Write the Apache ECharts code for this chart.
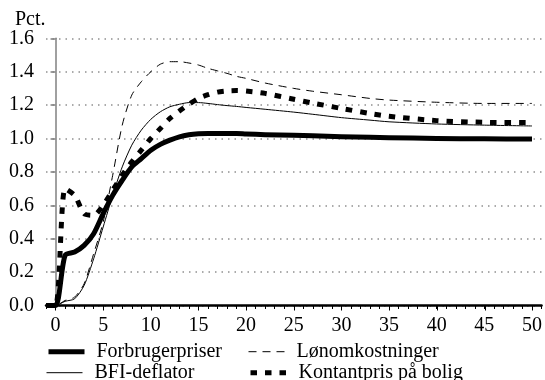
<!DOCTYPE html>
<html>
<head>
<meta charset="utf-8">
<script src="https://cdn.jsdelivr.net/npm/echarts@6/dist/echarts.min.js"></script>
<style>
  html, body { margin: 0; padding: 0; background: #fff; }
  #chart { width: 545px; height: 380px; }
</style>
</head>
<body>
<div id="chart"></div>
<script>
// kvartaler efter stød
const quarters = [-1, 0, 1, 2, 3, 4, 5, 6, 7, 8, 9, 10, 11, 12, 13, 14, 15, 16, 17, 18, 19, 20, 22, 25, 27, 30, 33, 35, 40, 45, 50];

const forbrugerpriser = [0, 0, 0.30, 0.32, 0.36, 0.43, 0.55, 0.66, 0.75, 0.83, 0.88, 0.93, 0.965, 0.99, 1.01, 1.022, 1.028, 1.03, 1.03, 1.03, 1.03, 1.027, 1.023, 1.02, 1.016, 1.011, 1.007, 1.005, 1.0, 0.998, 0.997];
const bfiDeflator = [0, 0, 0.025, 0.04, 0.12, 0.28, 0.47, 0.66, 0.83, 0.96, 1.05, 1.115, 1.16, 1.19, 1.205, 1.215, 1.215, 1.21, 1.203, 1.197, 1.192, 1.186, 1.175, 1.158, 1.145, 1.125, 1.11, 1.10, 1.087, 1.08, 1.075];
const loenomkostninger = [0, 0, 0.03, 0.05, 0.13, 0.31, 0.5, 0.78, 1.08, 1.26, 1.34, 1.40, 1.445, 1.46, 1.46, 1.452, 1.44, 1.42, 1.405, 1.39, 1.372, 1.36, 1.332, 1.30, 1.283, 1.262, 1.24, 1.23, 1.217, 1.21, 1.21];
const kontantpris = [0, 0, 0.70, 0.66, 0.55, 0.54, 0.60, 0.69, 0.78, 0.86, 0.93, 1.0, 1.06, 1.12, 1.165, 1.205, 1.24, 1.262, 1.278, 1.285, 1.287, 1.284, 1.27, 1.235, 1.212, 1.18, 1.15, 1.133, 1.107, 1.097, 1.095];

const yTicks = [0, 0.2, 0.4, 0.6, 0.8, 1.0, 1.2, 1.4, 1.6];
const xLabels = [0, 5, 10, 15, 20, 25, 30, 35, 40, 45, 50];

const font = 'Liberation Serif';
const fontSize = 20;
const pairs = (vals) => quarters.map((q, i) => [q, vals[i]]);

const styles = {
  'Forbrugerpriser': {width: 5, type: 'solid'},
  'BFI-deflator': {width: 1, type: 'solid'},
  'Lønomkostninger': {width: 1, type: [8, 6]},
  'Kontantpris på bolig': {width: 5, type: [6.5, 8]}
};

// plotområde: x fra -1 til 51
const plotLeft = 46, plotRight = 3, plotTop = 38.3, plotBottom = 74.5;
const unit = (545 - plotLeft - plotRight) / 52;

const chart = echarts.init(document.getElementById('chart'));

const lineSeries = (name, vals) => ({
  name: name,
  type: 'line',
  data: pairs(vals),
  symbol: 'none',
  smooth: 0.25,
  lineStyle: Object.assign({color: '#000', cap: 'butt', join: 'round'}, styles[name]),
  itemStyle: {color: '#000'},
  animation: false
});

// én legende pr. post, så kolonnerne står præcist
const legendItem = (name, left, top) => ({
  left: left,
  top: top,
  padding: 0,
  itemWidth: 36,
  itemHeight: 10,
  itemStyle: {color: 'transparent', borderWidth: 0, opacity: 0},
  lineStyle: Object.assign({color: '#000', cap: 'butt'}, styles[name]),
  textStyle: {fontFamily: font, fontSize: fontSize, color: '#000', lineHeight: 20, padding: [0, 0, 0, 7]},
  data: [name]
});

chart.setOption({
  animation: false,
  title: {
    text: 'Pct.',
    left: 15,
    top: 10,
    padding: 0,
    textStyle: {fontFamily: font, fontSize: fontSize, fontWeight: 'normal', color: '#000'}
  },
  grid: [
    {left: plotLeft, right: plotRight, top: plotTop, bottom: plotBottom, containLabel: false},
    // kun til de lange streger ved hver 5.
    {left: plotLeft + unit, right: plotRight + unit, top: plotTop, bottom: plotBottom, containLabel: false}
  ],
  legend: [
    legendItem('Forbrugerpriser', 46, 341.7),
    legendItem('BFI-deflator', 46, 362.7),
    legendItem('Lønomkostninger', 248, 341.7),
    legendItem('Kontantpris på bolig', 248, 362.7)
  ],
  xAxis: [
    {
      type: 'value',
      min: -1,
      max: 51,
      interval: 1,
      axisLine: {onZero: false, lineStyle: {color: '#000', width: 2.5}},
      axisTick: {show: true, length: 3.5, lineStyle: {color: '#000', width: 1}},
      axisLabel: {
        fontFamily: font,
        fontSize: fontSize,
        color: '#000',
        margin: 10,
        formatter: (v) => (xLabels.indexOf(v) >= 0 ? String(v) : '')
      },
      splitLine: {show: false}
    },
    {
      gridIndex: 1,
      type: 'value',
      min: 0,
      max: 50,
      interval: 5,
      axisLine: {show: false, onZero: false},
      axisTick: {show: true, length: 5, lineStyle: {color: '#000', width: 1}},
      axisLabel: {show: false},
      splitLine: {show: false}
    }
  ],
  yAxis: [
    {
      type: 'value',
      min: yTicks[0],
      max: yTicks[yTicks.length - 1],
      interval: 0.2,
      axisLine: {show: true, lineStyle: {color: '#808080', width: 1.5}},
      axisTick: {show: true, length: 5, lineStyle: {color: '#808080', width: 1.5}},
      axisLabel: {
        fontFamily: font,
        fontSize: fontSize,
        color: '#000',
        margin: 12,
        formatter: (v) => v.toFixed(1)
      },
      splitLine: {show: true, lineStyle: {color: '#909090', width: 1.5, type: [1.5, 5]}}
    },
    {gridIndex: 1, type: 'value', min: 0, max: 1.6, show: false}
  ],
  series: [
    lineSeries('Forbrugerpriser', forbrugerpriser),
    lineSeries('BFI-deflator', bfiDeflator),
    lineSeries('Lønomkostninger', loenomkostninger),
    lineSeries('Kontantpris på bolig', kontantpris)
  ]
});
</script>
</body>
</html>
